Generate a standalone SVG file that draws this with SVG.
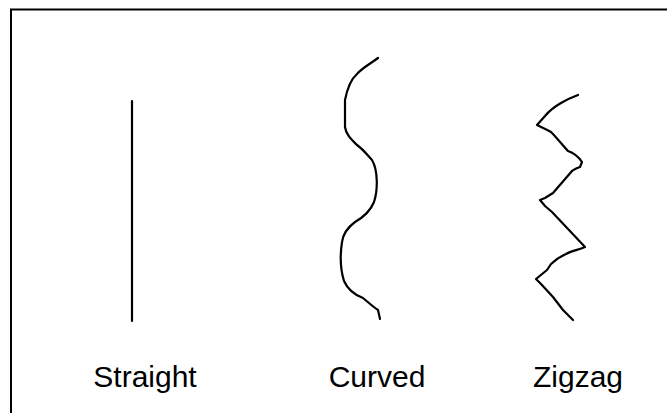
<svg xmlns="http://www.w3.org/2000/svg" width="667" height="413" viewBox="0 0 667 413">
<style>
.ln{fill:none;stroke:#000;stroke-width:2.2;stroke-linecap:round;stroke-linejoin:round}
.lbl{font-family:"Liberation Sans",Arial,sans-serif;font-size:30px;fill:#000;text-anchor:middle}
</style>
<rect x="11" y="9.5" width="680" height="440" fill="#fff" stroke="#000" stroke-width="2"/>
<g id="straight">
<line class="ln" x1="132" y1="101" x2="132" y2="321"/>
<text class="lbl" x="145" y="387">Straight</text>
</g>
<g id="curved">
<path class="ln" d="M378,58 C370,64 362,68 357,74 C350,80 347,90 345,100 L345,127 C346,135 352,140 357,145 C364,150 368,156 372,160 C378,170 378,190 374,202 C370,212 362,218 355,222 C347,228 343,234 342,242 C340,255 340,268 344,281 C348,290 355,295 363,298 C368,302 372,306 378,310 L380,319"/>
<text class="lbl" x="377" y="387">Curved</text>
</g>
<g id="zigzag">
<path class="ln" d="M578,95 C570,98 566,100 561,103 C554,107 550,110 545,116 L537,125 C541,127 546,129 551,132 C558,139 563,146 568,151 C574,153 578,156 582,162 L580,167 C576,168 575,169 572,171 L553,193 L545,198 L540,200 L545,206 L552,212 L585,247 C578,250 571,251 566,254 C559,257 554,261 551,264 L547,270 L536,279 L541,284 L553,297 L563,310 L573,320"/>
<text class="lbl" x="578" y="387">Zigzag</text>
</g>
</svg>
